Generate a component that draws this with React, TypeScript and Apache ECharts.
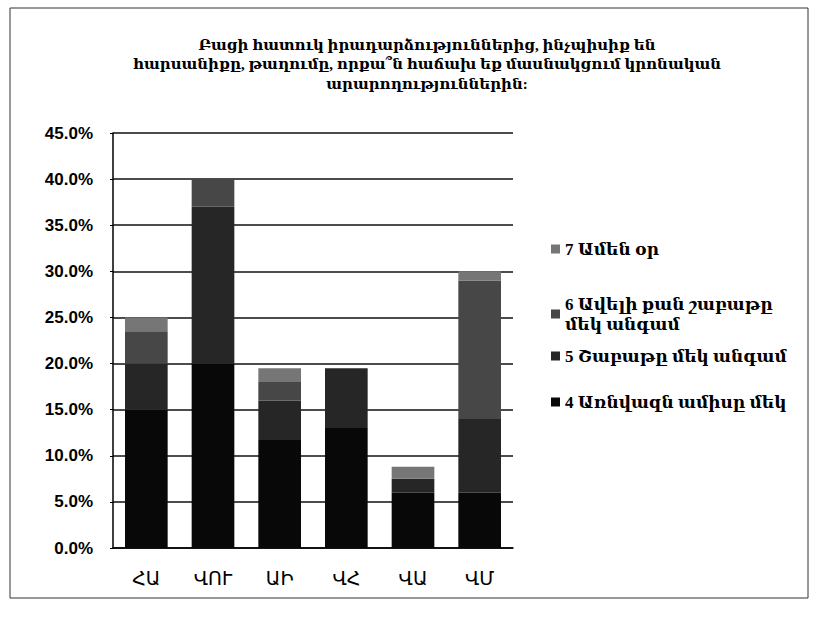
import React, { useEffect, useRef } from "react";
import * as echarts from "echarts";

const categories = ["ՀԱ", "ՎՈՒ", "ԱԻ", "ՎՀ", "ՎԱ", "ՎՄ"];
const seriesNames = [
  "4 Առնվազն ամիսը մեկ",
  "5 Շաբաթը մեկ անգամ",
  "6 Ավելի քան շաբաթը մեկ անգամ",
  "7 Ամեն օր",
];
const s4 = [15, 20, 11.7, 13, 6, 6];
const s5 = [5, 17, 4.3, 6.5, 1.5, 8];
const s6 = [3.5, 3, 2, 0, 0, 15];
const s7 = [1.5, 0, 1.5, 0, 1.3, 1];
const titleLines = [
  "Բացի հատուկ իրադարձություններից, ինչպիսիք են",
  "հարսանիքը, թաղումը, որքա՞ն հաճախ եք մասնակցում կրոնական",
  "արարողություններին:",
];

const colors = ["#080808", "#262626", "#474747", "#767676"];
const FONT = "'Liberation Serif', 'DejaVu Serif', serif";
const SANS = "'Liberation Sans', 'DejaVu Sans', sans-serif";

export default function App() {
  const ref = useRef<HTMLDivElement>(null);
  useEffect(() => {
    if (!ref.current) return;
    const chart = echarts.init(ref.current, null, { renderer: "svg" });
    const values = [s4, s5, s6, s7];
    const legendTops = [387, 341, 289, 234];
    chart.setOption({
      animation: false,
      backgroundColor: "#fff",
      title: {
        text: titleLines.join("\n"),
        left: 422,
        textAlign: "center",
        top: 30,
        textStyle: {
          fontFamily: FONT,
          fontWeight: "bold",
          fontSize: 15,
          lineHeight: 19.5,
          color: "#000",
        },
      },
      graphic: [
        {
          type: "rect",
          shape: { x: 10, y: 8, width: 798, height: 590 },
          style: { fill: "none", stroke: "#333", lineWidth: 1 },
          silent: true,
        },
      ],
      legend: seriesNames.map((n, i) => ({
        data: [n],
        orient: "vertical",
        left: 546,
        top: legendTops[i],
        itemWidth: 9,
        itemHeight: 9,
        itemGap: 6,
        icon: "rect",
        selectedMode: false,
        formatter: (name: string) =>
          name === seriesNames[2] ? "6 Ավելի քան շաբաթը\nմեկ անգամ" : name,
        textStyle: {
          fontFamily: FONT,
          fontWeight: "bold",
          fontSize: 17,
          lineHeight: 20,
          color: "#000",
        },
      })),
      grid: { left: 113, right: 313, top: 133, bottom: 70 },
      xAxis: {
        type: "category",
        data: categories,
        axisLine: { lineStyle: { color: "#000", width: 1.5 } },
        axisTick: { show: false },
        axisLabel: {
          fontFamily: SANS,
          fontSize: 19,
          color: "#000",
          margin: 21,
        },
      },
      yAxis: {
        type: "value",
        min: 0,
        max: 45,
        interval: 5,
        axisLine: { show: true, lineStyle: { color: "#000", width: 1.5 } },
        axisTick: { show: true, length: 3, lineStyle: { color: "#000" } },
        splitLine: { lineStyle: { color: "#111", width: 1.5 } },
        axisLabel: {
          fontFamily: SANS,
          fontWeight: "bold",
          fontSize: 17,
          color: "#000",
          margin: 20,
          formatter: (v: number) => v.toFixed(1) + "%",
        },
      },
      series: seriesNames.map((n, i) => ({
        name: n,
        type: "bar",
        stack: "total",
        barWidth: "64%",
        itemStyle: { color: colors[i] },
        data: values[i],
      })),
    });
    return () => chart.dispose();
  }, []);
  return (
    <div
      ref={ref}
      style={{ position: "fixed", left: 0, top: 0, width: 826, height: 618, background: "#fff" }}
    />
  );
}
